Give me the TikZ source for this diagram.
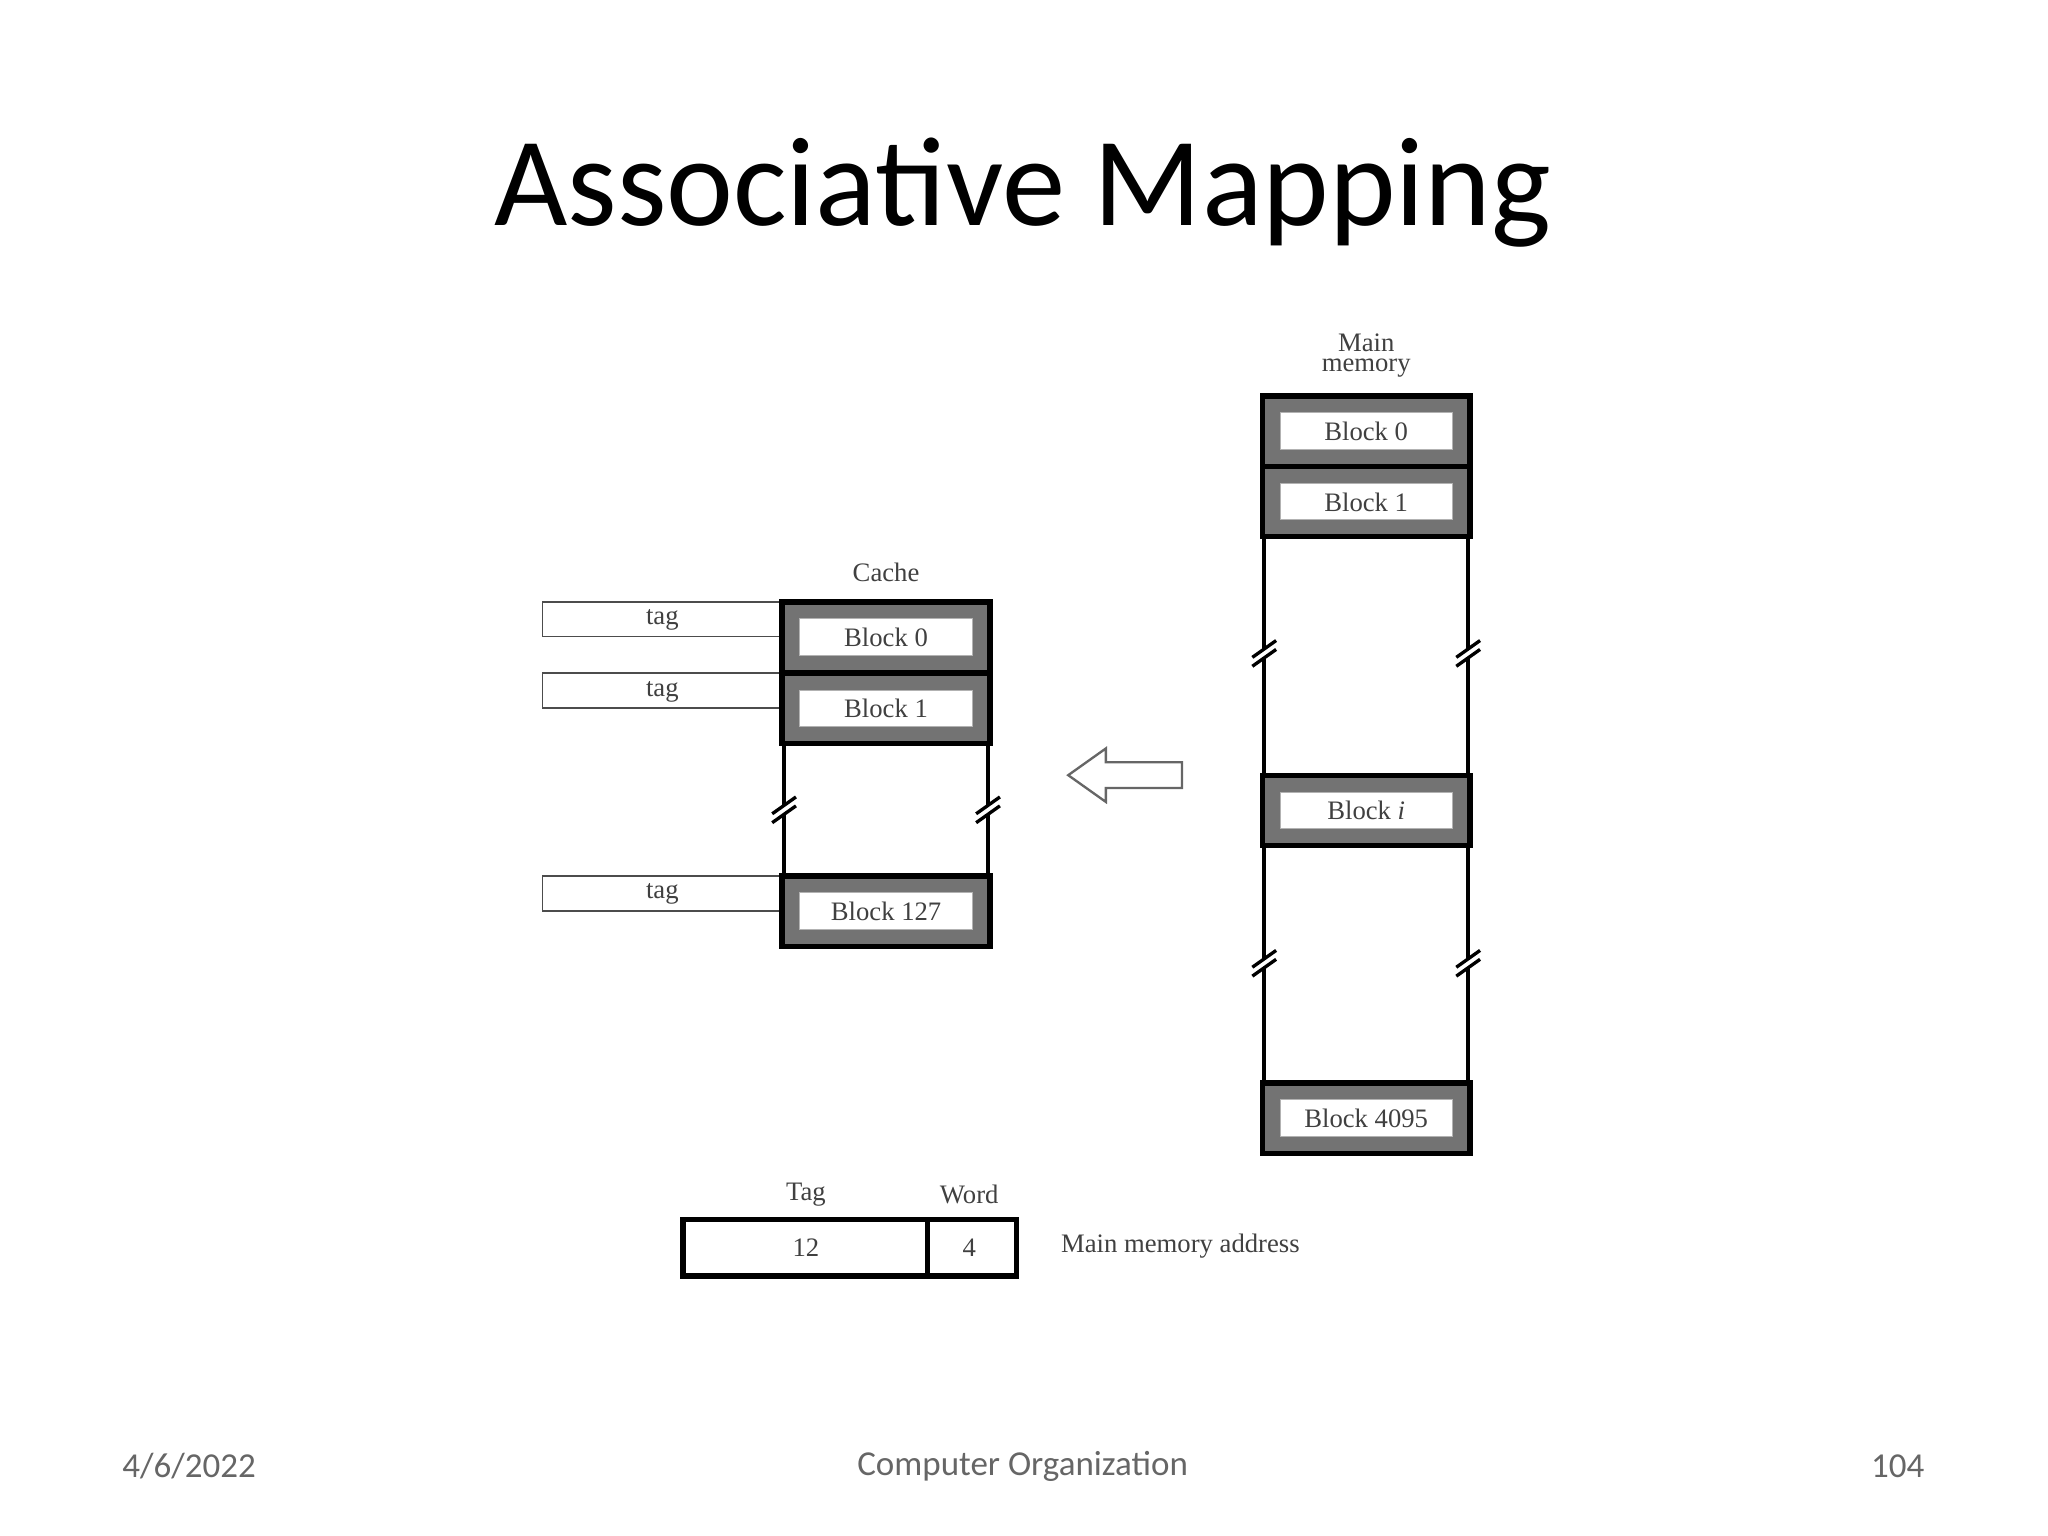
\documentclass[tikz,border=0pt]{standalone}
\usepackage{fontspec}
\setmainfont{Liberation Serif}
\newfontfamily\calfont{Carlito}
\begin{document}
\begin{tikzpicture}[x=0.297pt,y=-0.297pt,
  lbl/.style={font=\fontsize{8}{9}\selectfont,text=black!75},
  blk/.style={draw=black,line width=1.6pt,fill=black!55},
  inner/.style={fill=white,draw=black!30,line width=0.3pt},
  tagbox/.style={draw=black!70,line width=0.5pt,fill=white},
  wall/.style={line width=1.2pt},
  foot/.style={font=\calfont\fontsize{10.5}{12}\selectfont,text=black!60}]
\useasboundingbox (0,0) rectangle (2068.7,1551.5);
\node[font=\calfont\fontsize{38}{42}\selectfont] (title) at (1033,195) {Associative Mapping};
\node[foot] (date) at (191,1481) {4/6/2022};
\node[foot] (course) at (1033,1481) {Computer Organization};
\node[foot] (page) at (1917,1481) {104};
% cache
\node[lbl] (cachel) at (895,578) {Cache};
\draw[wall] (792,751) -- (792,885) (998,751) -- (998,885);
\foreach \y/\t/\n in {608/Block 0/c0,680/Block 1/c1,885/Block 127/c2}{
  \draw[tagbox] (548,\y) rectangle (790,\y+35);
  \node[lbl,anchor=north] at (669,\y-4) {tag};
  \draw[blk] (790,\y) rectangle (1000,\y+71);
  \draw[inner] (808,\y+17) rectangle (982,\y+54);
  \node[lbl] (\n) at (895,\y+36) {\t};
}
% main memory
\node[lbl] (mml1) at (1380,346) {Main};
\node[lbl] (mml2) at (1380,372) {memory};
\draw[wall] (1277,542) -- (1277,1094) (1483,542) -- (1483,1094);
\foreach \y/\t/\n in {400/Block 0/m0,471/Block 1/m1,783/Block \textit{i}/mi,1094/Block 4095/m4}{
  \draw[blk] (1275,\y) rectangle (1485,\y+71);
  \draw[inner] (1293,\y+17) rectangle (1467,\y+54);
  \node[lbl] (\n) at (1380,\y+36) {\t};
}
% break marks
\foreach \x/\y in {792/818,998/818,1277/660,1483/660,1277/973,1483/973}{
  \fill[white] (\x-10,\y+2) -- (\x+10,\y-12) -- (\x+10,\y-2) -- (\x-10,\y+12) -- cycle;
  \draw[line width=1pt] (\x-12,\y+4) -- (\x+12,\y-13) (\x-12,\y+13) -- (\x+12,\y-4);
}
% hollow arrow
\draw[draw=black!60,line width=0.7pt,fill=white,line join=miter]
  (1079,783) -- (1117,756) -- (1117,770) -- (1194,770) -- (1194,796)
  -- (1117,796) -- (1117,810) -- cycle;
% address
\draw[line width=1.6pt] (690,1232) rectangle (1027,1289);
\draw[line width=1.6pt] (937,1232) -- (937,1289);
\node[lbl] (tagl) at (814,1207) {Tag};
\node[lbl] (wordl) at (979,1207) {Word};
\node[lbl] (n12) at (814,1260) {12};
\node[lbl] (n4) at (979,1260) {4};
\node[lbl,anchor=west] (mma) at (1060,1259) {Main memory address};
\end{tikzpicture}
\end{document}
